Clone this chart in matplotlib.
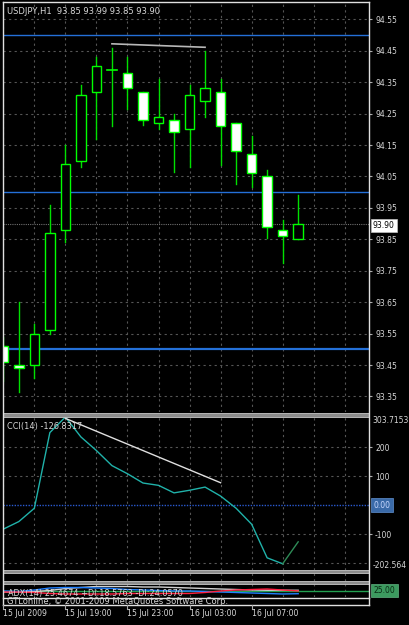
import matplotlib
matplotlib.use("Agg")
import matplotlib.pyplot as plt
from matplotlib.patches import Rectangle
from matplotlib.lines import Line2D

opens  = [93.51, 93.45, 93.45, 93.56, 93.88, 94.10, 94.32, 94.39, 94.38, 94.32,
          94.22, 94.23, 94.20, 94.29, 94.32, 94.22, 94.12, 94.05, 93.88, 93.85]
highs  = [93.54, 93.65, 93.58, 93.96, 94.15, 94.34, 94.43, 94.46, 94.43, 94.32,
          94.36, 94.25, 94.34, 94.45, 94.36, 94.22, 94.18, 94.07, 93.91, 93.99]
lows   = [93.40, 93.365, 93.41, 93.55, 93.84, 94.08, 94.17, 94.21, 94.265, 94.215,
          94.20, 94.065, 94.08, 94.24, 94.085, 94.025, 94.015, 93.855, 93.775, 93.85]
closes = [93.46, 93.44, 93.55, 93.87, 94.09, 94.31, 94.40, 94.39, 94.33, 94.23,
          94.24, 94.19, 94.31, 94.33, 94.21, 94.13, 94.06, 93.89, 93.86, 93.90]
price_ticks = [94.55, 94.45, 94.35, 94.25, 94.15, 94.05, 93.95, 93.85, 93.75, 93.65, 93.55, 93.45, 93.35]
hlines_blue = [94.50, 94.00, 93.50]
last_price = 93.90
trend_main = ([7, 13], [94.472, 94.461])

cci = [-83, -57, -11, 250, 303.7, 235, 188, 136, 108, 76,
       68, 42, 51, 62, 31, -11, -66, -182, -202.6, -126.8]
cci_ticks = [200, 100, -100]
trend_cci = ([4, 14], [299, 77])

adx   = [22, 22, 23, 25, 29, 31, 33, 33, 33, 32, 32, 31, 30, 29, 28, 27, 26, 25.5, 25.5, 25.5]
plusdi = [24, 23, 26, 30, 31, 31, 30, 29, 27, 26, 25, 24, 24, 23, 22, 21, 20, 19, 18, 18.6]
minusdi = [22, 22, 21, 19, 18, 18, 18, 18, 19, 19, 19, 19, 19, 21, 24, 26, 27, 28, 26, 24.1]

date_idx = [0, 4, 8, 12, 16]
date_lab = ["15 Jul 2009", "15 Jul 19:00", "15 Jul 23:00", "16 Jul 03:00", "16 Jul 07:00"]

# --- geometria em pixels ---
W, H = 410, 625
L, R = 2.7, 369.5
X0, DX = 3.3, 15.52
TXT = "#d8d8d8"
GRID = dict(color="#555555", lw=0.8, ls=(0, (2, 3)))

fig = plt.figure(figsize=(W / 100, H / 100), dpi=100, facecolor="black")

def fy(p): return 1 - p / H
def fx(p): return p / W

def panel(top, bot):
    ax = fig.add_axes([fx(L), fy(bot), fx(R - L), (bot - top) / H])
    ax.set_facecolor("black")
    for s in ax.spines.values(): s.set_visible(False)
    ax.set_xlim((L - X0) / DX, (R - X0) / DX)
    ax.set_xticks([]); ax.set_yticks([])
    for k in range(0, 24, 2): ax.axvline(k, **GRID, zorder=0)
    return ax

def ticks_right(ax, vals, labels):
    ax.yaxis.tick_right()
    ax.set_yticks(vals); ax.set_yticklabels(labels)
    ax.tick_params(axis="y", colors="#aaaaaa", labelcolor=TXT, labelsize=5.5,
                   length=2.5, width=0.8, pad=1.5)

# --- janela principal ---
ax = panel(2, 412)
pr = lambda p: 94.55 - (p - 19.3) / 314.3
ax.set_ylim(pr(412), pr(2))
ticks_right(ax, price_ticks, [f"{v:.2f}" for v in price_ticks])
for v in price_ticks: ax.axhline(v, **GRID, zorder=0)
for v, lw in zip(hlines_blue, [1.0, 1.0, 1.6]): ax.axhline(v, color="#2470d8", lw=lw, zorder=1)
ax.axhline(last_price, color="#707070", lw=0.8, ls=(0, (1, 1)), zorder=1)
w = 0.62
for i, (o, h, l, c) in enumerate(zip(opens, highs, lows, closes)):
    ax.plot([i, i], [l, h], color="#00e000", lw=1, zorder=2)
    if o == c:
        ax.plot([i - w / 2, i + w / 2], [o, o], color="#00ff00", lw=1.2, zorder=3)
    else:
        ax.add_patch(Rectangle((i - w / 2, min(o, c)), w, abs(c - o),
                               fc="white" if c < o else "black", ec="#00ff00", lw=1, zorder=3))
ax.plot(*trend_main, color="#b8b8b8", lw=1.2, zorder=4)
ax.text(0.012, 0.988, "USDJPY,H1  93.85 93.99 93.85 93.90", transform=ax.transAxes,
        color=TXT, fontsize=6, va="top", ha="left")
fig.text(fx(373), fy(225.5), "93.90", color="black", fontsize=5.5, va="center", ha="left",
         bbox=dict(boxstyle="square,pad=0.3", fc="white", ec="#c0c0c0", lw=0.5))

# --- CCI ---
cx = panel(417, 570)
cx.set_ylim(-224, 303.7)
ticks_right(cx, cci_ticks, [str(v) for v in cci_ticks])
for v in [200, 100, -100, -200]: cx.axhline(v, **GRID, zorder=0)
cx.axhline(0, color="#2a5ad0", lw=1, ls=(0, (1, 1)), zorder=1)
xs = list(range(len(cci)))
cx.plot(xs[:-1], cci[:-1], color="#20B2AA", lw=1, zorder=3)
cx.plot(xs[-2:], cci[-2:], color="#2E8B57", lw=1, zorder=3)
cx.plot(*trend_cci, color="#e0e0e0", lw=1, zorder=4)
cx.text(0.012, 0.965, "CCI(14) -126.8317", transform=cx.transAxes, color=TXT,
        fontsize=5.9, va="top", ha="left", zorder=5)
for lab, p in [("303.7153", 420.5), ("-202.564", 565.5)]:
    fig.text(fx(372.5), fy(p), lab, color=TXT, fontsize=5.5, va="center", ha="left")
fig.text(fx(373.5), fy(505), "0.00", color="#c8d8ff", fontsize=5.5, va="center", ha="left",
         bbox=dict(boxstyle="square,pad=0.3", fc="#3a6aa8", ec="#6090d0", lw=0.5))

# --- janela vazia e ADX ---
panel(573, 580.5)
dx = panel(584, 597)
dx.set_ylim(12, 38)
dx.axhline(25, color="#22a050", lw=1, zorder=1)
dx.plot(xs, adx, color="#d0d0d0", lw=1, zorder=2)
dx.plot(xs, plusdi, color="#2080ff", lw=1, zorder=2)
dx.plot(xs, minusdi, color="#ff2040", lw=1, zorder=2)
fig.text(fx(8), fy(593.5), "ADX(14) 25.4674 +DI:18.5763 -DI:24.0570", color=TXT,
         fontsize=5.9, va="center", ha="left")
fig.text(fx(373.5), fy(590.5), "25.00", color="#0a2a14", fontsize=5.5, va="center", ha="left",
         bbox=dict(boxstyle="square,pad=0.3", fc="#3c9a5f", ec="#60b080", lw=0.5))
fig.text(fx(7), fy(601.5), "GTLonline, \u00a9 2001-2009 MetaQuotes Software Corp.", color=TXT,
         fontsize=6, va="center", ha="left")

# --- molduras e separadores ---
def hline(p, c="#e0e0e0", lw=1):
    fig.add_artist(Line2D([fx(L), fx(R)], [fy(p), fy(p)], color=c, lw=lw))
def vline(x, p0, p1, c="#e0e0e0", lw=1):
    fig.add_artist(Line2D([fx(x), fx(x)], [fy(p0), fy(p1)], color=c, lw=lw))
for top, bot in [(412.5, 416.5), (570, 573), (580.5, 584)]:
    fig.add_artist(Rectangle((fx(L), fy(bot)), fx(R - L), (bot - top) / H,
                             fc="#8c8c8c", ec="#c8c8c8", lw=0.6))
hline(2); hline(597.5); hline(605)
vline(L, 2, 605); vline(R, 2, 605)

# --- eixo de datas ---
for i, lab in zip(date_idx, date_lab):
    x = X0 + DX * i
    vline(x, 605, 608.5, c="#aaaaaa", lw=0.8)
    fig.text(fx(x), fy(613.5), lab, color=TXT, fontsize=5.6, va="center", ha="left")

fig.savefig("out.png", dpi=100, facecolor="black")
